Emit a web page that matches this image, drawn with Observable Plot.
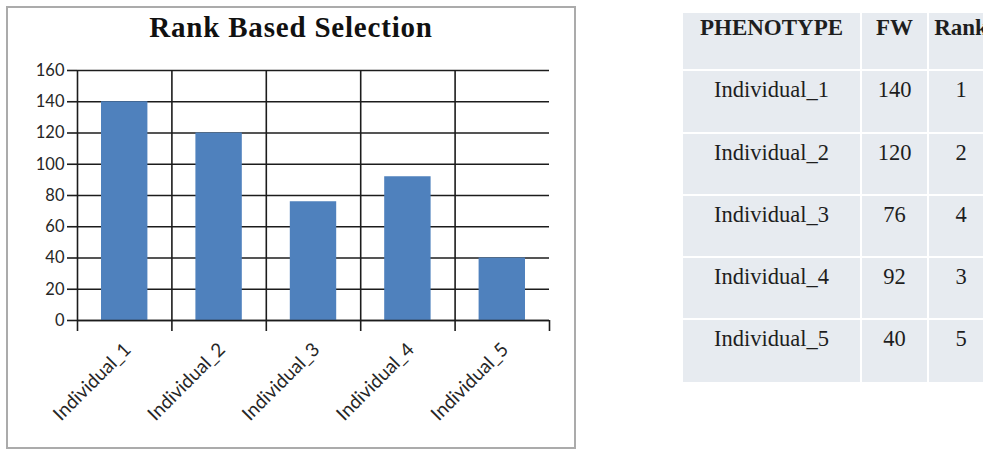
<!DOCTYPE html>
<html>
<head>
<meta charset="utf-8">
<script src="https://cdn.jsdelivr.net/npm/d3@7"></script>
<script src="https://cdn.jsdelivr.net/npm/@observablehq/plot@0.6"></script>
<style>
  html, body { margin: 0; padding: 0; background: #fff; }
  body { width: 983px; height: 451px; overflow: hidden; position: relative; }
  #box {
    position: absolute; left: 6px; top: 6px; width: 566px; height: 439px;
    border: 2px solid #ababab; background: #fff;
  }
  #title {
    height: 38px; line-height: 38px; text-align: center;
    font-family: "Liberation Serif", "Times New Roman", serif; font-weight: bold;
    font-size: 29px; letter-spacing: 0.8px; color: #111;
  }
  #chart svg { display: block; }
  #table {
    position: absolute; left: 683px; top: 13px;
    display: grid; grid-template-columns: 177px 65px 64px;
    grid-template-rows: 56px 61px 60px 60px 60px 62px;
    gap: 2px; background: #fff;
    font-family: "Liberation Serif", "Times New Roman", serif; color: #1e1e1e;
  }
  #table div { background: #e7ebf0; text-align: center; line-height: 1; padding-top: 8px; font-size: 22.5px; box-sizing: border-box; white-space: nowrap; }
  #table div.h { font-weight: bold; font-size: 23px; padding-top: 3px; }
</style>
</head>
<body>
<div id="box">
  <div id="title"></div>
  <div id="chart"></div>
</div>
<div id="table"></div>
<script>
const title = "Rank Based Selection";
const names = ["Individual_1", "Individual_2", "Individual_3", "Individual_4", "Individual_5"];
const fw = [140, 120, 76, 92, 40];
const ranks = [1, 2, 4, 3, 5];
const yTicks = [0, 20, 40, 60, 80, 100, 120, 140, 160];
const headers = ["PHENOTYPE", "FW", "Rank"];

const data = names.map((n, i) => ({name: n, fw: fw[i], i}));
const bounds = d3.range(names.length + 1);
const centers = names.map((_, i) => i + 0.5);

document.getElementById("title").textContent = title;

const lineColor = "#1c1c1c";
const chart = Plot.plot({
  width: 566,
  height: 401,
  marginLeft: 69,
  marginRight: 25,
  marginTop: 24,
  marginBottom: 127,
  style: {fontFamily: "Lato, sans-serif", background: "transparent"},
  x: {type: "linear", domain: [0, names.length]},
  y: {domain: [0, 160]},
  marks: [
    Plot.gridY(yTicks, {stroke: lineColor, strokeOpacity: 1, strokeWidth: 1.6}),
    Plot.gridX(bounds.slice(0, -1), {stroke: lineColor, strokeOpacity: 1, strokeWidth: 1.6}),
    Plot.rectY(data, {x1: d => d.i, x2: d => d.i + 1, y: "fw", insetLeft: 24, insetRight: 24, fill: "#4f81bd"}),
    Plot.ruleY([0], {stroke: lineColor, strokeWidth: 1.6}),
    Plot.axisY({ticks: yTicks, tickSize: 10, tickPadding: 3, stroke: lineColor, strokeWidth: 1.6, fontSize: 16.5, fill: "#262626", label: null}),
    Plot.axisX({ticks: bounds, tickSize: 11, tickFormat: () => "", stroke: lineColor, strokeWidth: 1.6, label: null}),
    Plot.axisX({ticks: centers, tickSize: 0, tickPadding: 26, dx: 3, tickRotate: -45, tickFormat: v => names[Math.floor(v)], fontSize: 19, fill: "#262626", label: null})
  ]
});
document.getElementById("chart").appendChild(chart);

const table = document.getElementById("table");
headers.forEach(h => {
  const c = document.createElement("div"); c.className = "h"; c.textContent = h; table.appendChild(c);
});
names.forEach((n, i) => {
  [n, fw[i], ranks[i]].forEach(v => {
    const c = document.createElement("div"); c.textContent = v; table.appendChild(c);
  });
});
</script>
</body>
</html>
